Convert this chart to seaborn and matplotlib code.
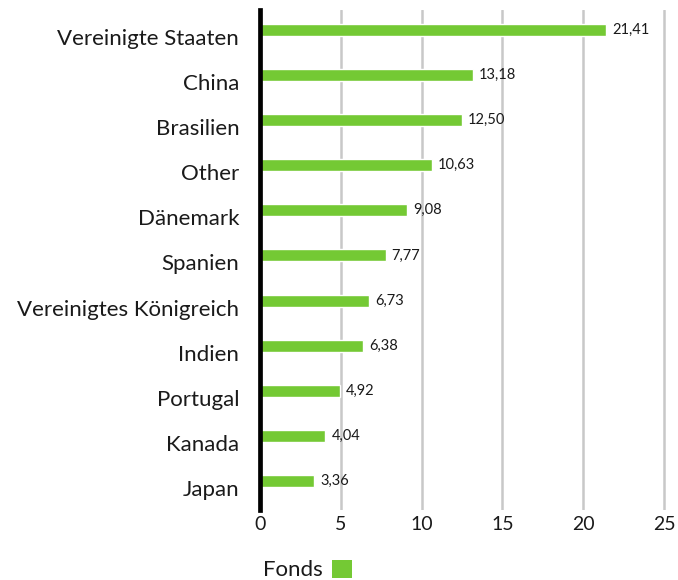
import matplotlib
matplotlib.use("Agg")
import matplotlib.pyplot as plt
import matplotlib.transforms as mtransforms
from matplotlib.patches import Patch
import seaborn as sns
import pandas as pd

# Country allocation of the fund (in %)
countries = ["Vereinigte Staaten", "China", "Brasilien", "Other", "Dänemark",
             "Spanien", "Vereinigtes Königreich", "Indien", "Portugal",
             "Kanada", "Japan"]
weights = [21.41, 13.18, 12.50, 10.63, 9.08, 7.77, 6.73, 6.38, 4.92, 4.04, 3.36]
x_ticks = [0, 5, 10, 15, 20, 25]
series_name = "Fonds"

GREEN = "#74C934"
TEXT = "#1a1a1a"

sns.set_theme(style="white")
plt.rcParams["font.family"] = ["Lato", "DejaVu Sans"]

df = pd.DataFrame({"Land": countries, "Gewicht": weights})

fig = plt.figure(figsize=(6.78, 5.80), dpi=100)
ax = fig.add_axes([0.3835, 0.1207, 0.5994, 0.8621])

sns.barplot(data=df, x="Gewicht", y="Land", color=GREEN, saturation=1,
            width=0.266, orient="h", ax=ax)

ax.set_xlim(0, 25.15)
ax.set_ylim(10.643, -0.443)
ax.set_xticks(x_ticks)
ax.set_xticklabels([str(t) for t in x_ticks])
ax.set_xlabel("")
ax.set_ylabel("")

# vertical gridlines behind bars
ax.set_axisbelow(True)
ax.xaxis.grid(True, color="#c8c8c8", linewidth=1.8)
ax.yaxis.grid(False)

for side in ["top", "right", "bottom"]:
    ax.spines[side].set_visible(False)
ax.spines["left"].set_color("black")
ax.spines["left"].set_linewidth(3.4)
ax.spines["left"].set_zorder(5)

ax.tick_params(axis="y", length=0, pad=15, labelsize=16, labelcolor=TEXT)
ax.tick_params(axis="x", length=0, pad=4.5, labelsize=14, labelcolor=TEXT)

# category labels sit slightly below the bar centre
shift = mtransforms.ScaledTranslation(0, -0.07, fig.dpi_scale_trans)
for lbl in ax.get_yticklabels():
    lbl.set_transform(lbl.get_transform() + shift)

# value labels with German decimal comma
for i, v in enumerate(weights):
    ax.text(v + 0.38, i, f"{v:.2f}".replace(".", ","), va="center",
            ha="left", fontsize=10.5, color=TEXT)

handle = Patch(facecolor=GREEN, edgecolor="none")
fig.legend(handles=[handle], labels=[series_name], markerfirst=False,
           frameon=False, fontsize=16, handlelength=0.9, handleheight=0.9,
           handletextpad=0.45, loc="lower left",
           bbox_to_anchor=(0.371, -0.02), borderpad=0.0,
           labelcolor=TEXT)

fig.savefig("out.png", dpi=100)
